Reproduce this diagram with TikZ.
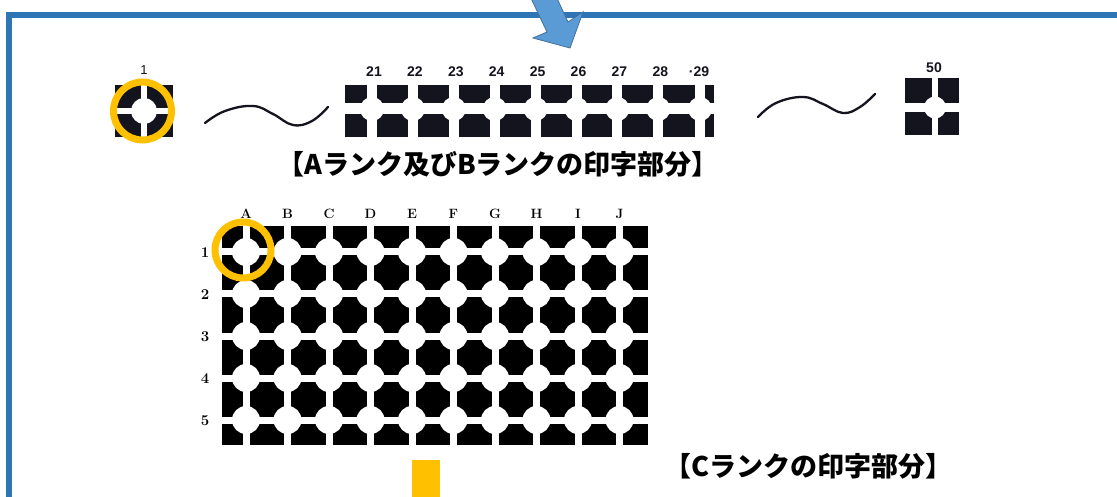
\documentclass[tikz,border=0pt]{standalone}
\usepackage{fontspec}
\newfontfamily\jpfont{Noto Sans CJK JP}
\newfontfamily\numfont{Liberation Sans}
\definecolor{frameblue}{RGB}{46,117,182}
\definecolor{arrowblue}{RGB}{91,155,213}
\definecolor{arrowedge}{RGB}{65,113,156}
\definecolor{ringorange}{RGB}{255,192,0}
\definecolor{ink}{RGB}{20,20,30}
\tikzset{
  ring/.style={draw=ringorange, line width=7pt},
  wave/.style={draw=ink, line width=2.3pt, line cap=round, line join=round},
  jplabel/.style={font=\jpfont\bfseries\fontsize{27}{27}\selectfont, inner sep=0pt},
  stripnum/.style={font=\numfont\bfseries\fontsize{14}{14}\selectfont, inner sep=0pt, text=ink},
  collabel/.style={font=\bfseries\fontsize{13.5}{13.5}\selectfont, inner sep=0pt},
  rowlabel/.style={font=\bfseries\fontsize{15}{15}\selectfont, inner sep=0pt},
}
\begin{document}
\begin{tikzpicture}[x=1pt,y=-1pt]
\useasboundingbox (0,0) rectangle (1117,497);
\clip (0,0) rectangle (1117,497);
\fill[white] (0,0) rectangle (1117,497);
% frame
\draw[frameblue, line width=6pt] (9,510) -- (9,15) -- (1130,15);
% arrow
\filldraw[fill=arrowblue, draw=arrowedge, line width=0.8pt, line join=miter]
  (529,-6) -- (547,32) -- (533,38) -- (570,48) -- (583,12) -- (568,22) -- (555,-6) -- cycle;

% ---- A/B strip ----
% block 1
\fill[ink] (115,85) rectangle (173,137);
\fill[white] (141,80) rectangle (147,142);
\fill[white] (110,108) rectangle (178,114);
\fill[white] (144,111) circle (13);
\node[stripnum, font=\numfont\fontsize{13}{13}\selectfont] (n1) at (144,70) {1};
\draw[ring] (142.5,111) circle (29);
% wave 1
\draw[wave] plot[smooth, tension=0.7] coordinates {(205,123) (225,111) (253,106) (273,114) (293,125) (312,121) (328,107)};
% strip 21-29
\fill[ink] (345,85) rectangle (714,137);
\fill[white] (340,103.5) rectangle (720,114.5);
\foreach \k [count=\i from 0] in {21,22,23,24,25,26,27,28} {
  \pgfmathsetmacro{\xx}{372+40.9*\i}
  \fill[white] (\xx-5,80) rectangle (\xx+5,142);
  \fill[white] (\xx,109) circle (12);
  \node[stripnum] (n\k) at (\xx+2,72) {\k};
}
\fill[white] (700-5,80) rectangle (700+5,142);
\fill[white] (700,109) circle (12);
\node[stripnum] (n29) at (699,72) {·29};
% wave 2
\draw[wave] plot[smooth, tension=0.7] coordinates {(758,117) (776,103) (803,97) (823,104) (843,113) (860,107) (875,94)};
% block 50
\fill[ink] (905,78) rectangle (959,135);
\fill[white] (932,73) rectangle (938,140);
\fill[white] (900,103) rectangle (964,112);
\fill[white] (935,107.5) circle (11);
\node[stripnum] (n50) at (934,68) {50};

\node[jplabel] (labAB) at (498,164) {【Aランク及びBランクの印字部分】};

% ---- C grid ----
\fill[black] (222,226) rectangle (648,445);
\foreach \c in {0,...,9} {
  \pgfmathsetmacro{\xx}{246+41.5*\c}
  \fill[white] (\xx-3.5,220) rectangle (\xx+3.5,450);
}
\foreach \r in {0,...,4} {
  \pgfmathsetmacro{\yy}{252+42*\r}
  \fill[white] (216,\yy-3.5) rectangle (654,\yy+3.5);
}
\foreach \c in {0,...,9} {
  \foreach \r in {0,...,4} {
    \fill[white] ({246+41.5*\c},{252+42*\r}) circle (14);
  }
}
\foreach \L [count=\c from 0] in {A,B,C,D,E,F,G,H,I,J} {
  \node[collabel] (col\L) at ({246+41.5*\c},214) {\L};
}
\foreach \r in {1,...,5} {
  \node[rowlabel] (row\r) at (205,{253+42*(\r-1)}) {\r};
}
\draw[ring] (243,250) circle (28);

% orange block below
\fill[ringorange] (412,460) rectangle (440,500);

\node[jplabel] (labC) at (808,466) {【Cランクの印字部分】};
\end{tikzpicture}
\end{document}
